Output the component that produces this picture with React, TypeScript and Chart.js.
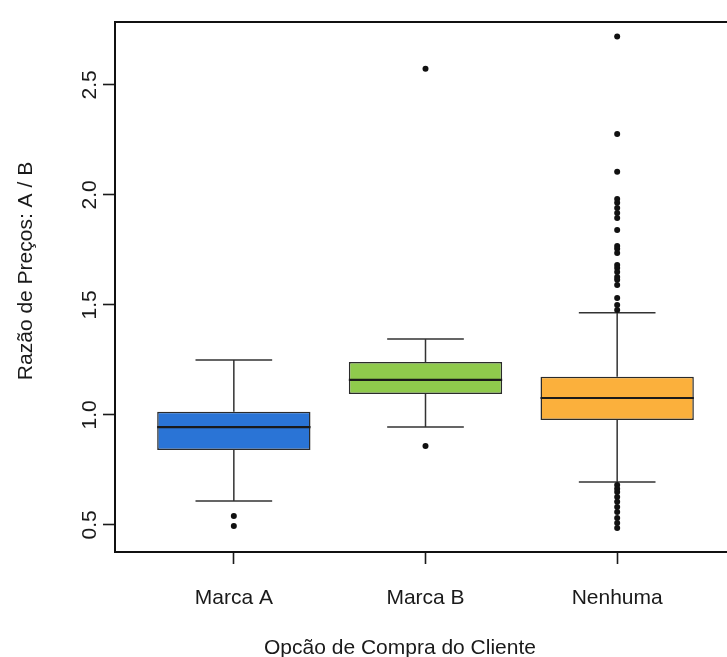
import { useEffect, useRef } from "react";
import { Chart, registerables } from "chart.js";

Chart.register(...registerables);

// Five-number summaries per purchase option
const categories = ["Marca A", "Marca B", "Nenhuma"];
const lowerWhisker = [0.609, 0.945, 0.695];
const firstQuartile = [0.841, 1.095, 0.977];
const medians = [0.945, 1.159, 1.077];
const thirdQuartile = [1.014, 1.241, 1.173];
const upperWhisker = [1.25, 1.345, 1.464];

// Points beyond the whiskers
const outliersMarcaA = [0.541, 0.495];
const outliersMarcaB = [2.573, 0.859];
const outliersNenhuma = [
  2.72, 2.277, 2.105, 1.982, 1.964, 1.941, 1.918, 1.895, 1.841, 1.768, 1.755,
  1.736, 1.682, 1.668, 1.65, 1.627, 1.614, 1.591, 1.532, 1.5, 1.477,
  0.682, 0.664, 0.65, 0.627, 0.605, 0.582, 0.559, 0.532, 0.509, 0.486,
];

const yTickValues = [0.5, 1.0, 1.5, 2.0, 2.5];
const xTitle = "Opcão de Compra do Cliente";
const yTitle = "Razão de Preços: A / B";

const boxColors = ["#2a74d6", "#8fca4c", "#fbb03c"];
const FONT = '21px "Liberation Sans", Arial, Helvetica, sans-serif';
const INK = "#1a1a1a";

type Pt = { x: number; y: number | null };

function segments(list: Array<[number, number, number, number]>): Pt[] {
  const out: Pt[] = [];
  list.forEach(([x1, y1, x2, y2]) => {
    out.push({ x: x1, y: y1 }, { x: x2, y: y2 }, { x: x2, y: null });
  });
  return out;
}

const framePlugin = {
  id: "plotFrame",
  afterDraw(chart: any) {
    const { ctx, chartArea } = chart;
    ctx.save();
    ctx.strokeStyle = "#111";
    ctx.lineWidth = 2;
    ctx.strokeRect(
      chartArea.left,
      chartArea.top,
      chartArea.right - chartArea.left,
      chartArea.bottom - chartArea.top
    );
    ctx.restore();
  },
};

const axisTextPlugin = {
  id: "axisText",
  afterDraw(chart: any) {
    const { ctx, chartArea } = chart;
    const xs = chart.scales.x;
    const ys = chart.scales.y;
    ctx.save();
    ctx.fillStyle = INK;
    ctx.font = FONT;
    ctx.textAlign = "center";
    ctx.textBaseline = "alphabetic";

    // category labels under the bottom ticks
    xs.ticks.forEach((t: any, i: number) => {
      ctx.fillText(categories[i], xs.getPixelForValue(t.value), chartArea.bottom + 52);
    });

    // value labels, written along the left axis
    ys.ticks.forEach((t: any) => {
      const py = ys.getPixelForValue(t.value);
      ctx.save();
      ctx.translate(chartArea.left - 19, py);
      ctx.rotate(-Math.PI / 2);
      ctx.fillText(Number(t.value).toFixed(1), 0, 0);
      ctx.restore();
    });

    ctx.fillText(xTitle, 400, chartArea.bottom + 102);

    ctx.save();
    ctx.translate(32, 271);
    ctx.rotate(-Math.PI / 2);
    ctx.fillText(yTitle, 0, 0);
    ctx.restore();

    ctx.restore();
  },
};

export default function App() {
  const canvasRef = useRef<HTMLCanvasElement | null>(null);

  useEffect(() => {
    if (!canvasRef.current) return;

    const positions = categories.map((_, i) => i + 1);

    const boxes = positions.map((x, i) => ({
      x,
      y: [firstQuartile[i], thirdQuartile[i]],
    }));

    const whiskerSegs: Array<[number, number, number, number]> = [];
    positions.forEach((x, i) => {
      whiskerSegs.push([x, thirdQuartile[i], x, upperWhisker[i]]);
      whiskerSegs.push([x - 0.2, upperWhisker[i], x + 0.2, upperWhisker[i]]);
      whiskerSegs.push([x, firstQuartile[i], x, lowerWhisker[i]]);
      whiskerSegs.push([x - 0.2, lowerWhisker[i], x + 0.2, lowerWhisker[i]]);
    });

    const medianSegs: Array<[number, number, number, number]> = positions.map(
      (x, i) => [x - 0.4, medians[i], x + 0.4, medians[i]]
    );

    const outlierPoints: Pt[] = [
      ...outliersMarcaA.map((y) => ({ x: 1, y })),
      ...outliersMarcaB.map((y) => ({ x: 2, y })),
      ...outliersNenhuma.map((y) => ({ x: 3, y })),
    ];

    const tickGrid = {
      display: true,
      offset: false,
      drawOnChartArea: false,
      drawTicks: true,
      tickLength: 12,
      tickWidth: 1.6,
      tickColor: "#1a1a1a",
      color: "#1a1a1a",
    };

    const chart = new Chart(canvasRef.current, {
      data: {
        datasets: [
          {
            type: "bar",
            data: boxes as any,
            backgroundColor: boxColors,
            borderColor: "#2b2b2b",
            borderWidth: 1.5,
            borderSkipped: false,
            barPercentage: 0.8,
            categoryPercentage: 1,
            order: 3,
          },
          {
            type: "line",
            data: segments(whiskerSegs) as any,
            borderColor: "#333",
            borderWidth: 1.5,
            pointRadius: 0,
            spanGaps: false,
            tension: 0,
            order: 2,
          },
          {
            type: "line",
            data: segments(medianSegs) as any,
            borderColor: "#1a1a1a",
            borderWidth: 2.2,
            pointRadius: 0,
            spanGaps: false,
            tension: 0,
            order: 1,
          },
          {
            type: "line",
            data: outlierPoints as any,
            showLine: false,
            pointRadius: 3,
            pointBackgroundColor: "#111",
            pointBorderWidth: 0,
            order: 0,
          },
        ],
      },
      options: {
        responsive: false,
        animation: false,
        events: [],
        layout: { padding: { top: 22, right: 9, left: 0, bottom: 0 } },
        plugins: {
          legend: { display: false },
          tooltip: { enabled: false },
        },
        scales: {
          x: {
            type: "linear",
            offset: false,
            min: 0.38,
            max: 3.62,
            afterBuildTicks: (s: any) => {
              s.ticks = positions.map((v) => ({ value: v }));
            },
            afterFit: (s: any) => {
              s.height = 105;
            },
            ticks: { display: false },
            grid: tickGrid,
            border: { display: false },
          },
          y: {
            type: "linear",
            min: 0.377,
            max: 2.786,
            afterBuildTicks: (s: any) => {
              s.ticks = yTickValues.map((v) => ({ value: v }));
            },
            afterFit: (s: any) => {
              s.width = 115;
            },
            ticks: { display: false },
            grid: tickGrid,
            border: { display: false },
          },
        },
      } as any,
      plugins: [framePlugin, axisTextPlugin],
    });

    return () => chart.destroy();
  }, []);

  return (
    <div
      style={{
        position: "absolute",
        left: 0,
        top: 0,
        width: 727,
        height: 657,
        overflow: "hidden",
        background: "#fff",
      }}
    >
      <canvas ref={canvasRef} width={745} height={657} />
    </div>
  );
}
